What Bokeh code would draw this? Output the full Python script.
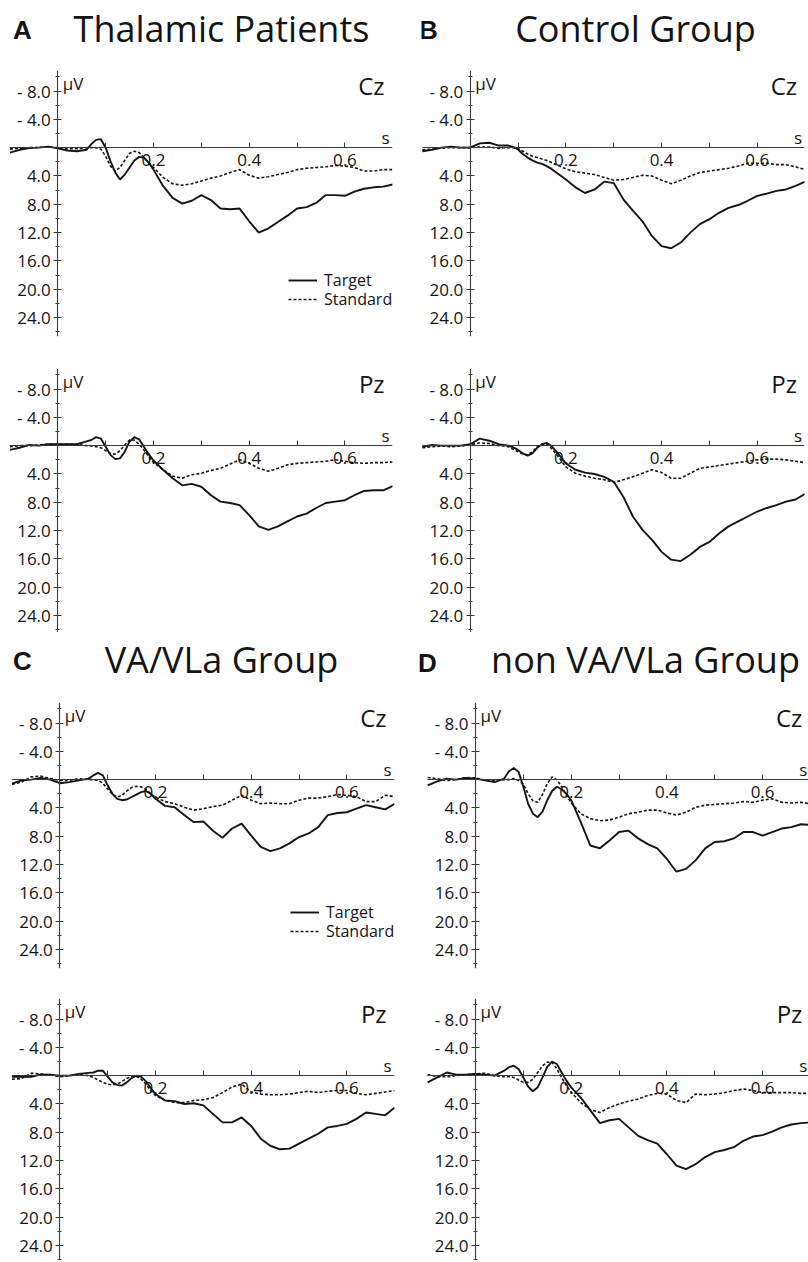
from bokeh.plotting import figure
from bokeh.models import LinearAxis, FixedTicker, Range1d, Legend, LegendItem, Label
from bokeh.layouts import row, column
from bokeh.core.properties import value
from bokeh.embed import file_html
from bokeh.resources import INLINE

# ---------------- data ----------------
time_s = [-0.10, -0.08, -0.06, -0.04, -0.02, 0.00, 0.02, 0.04, 0.06,
          0.07, 0.08, 0.09, 0.10, 0.11, 0.12, 0.13, 0.14, 0.15, 0.16, 0.17, 0.18, 0.19, 0.20,
          0.22, 0.24, 0.26, 0.28, 0.30, 0.32, 0.34, 0.36, 0.38, 0.40,
          0.42, 0.44, 0.46, 0.48, 0.50, 0.52, 0.54, 0.56, 0.58, 0.60,
          0.62, 0.64, 0.66, 0.68, 0.70]

# A  Thalamic Patients
thal_cz_target = [0.7, 0.3, 0.05, 0.0, -0.15, 0.1, 0.4, 0.5, 0.3,
                  -0.5, -1.1, -1.2, 0.0, 1.9, 3.5, 4.5, 3.8, 2.8, 1.8, 1.3, 1.4, 2.1, 3.1,
                  5.4, 7.1, 7.9, 7.5, 6.7, 7.4, 8.6, 8.7, 8.6, 10.4,
                  12.0, 11.4, 10.5, 9.6, 8.6, 8.4, 7.8, 6.7, 6.7, 6.8,
                  6.2, 5.8, 5.6, 5.5, 5.2]
thal_cz_standard = [0.2, 0.1, 0.0, -0.05, -0.1, 0.0, 0.15, 0.15, 0.0,
                    0.0, 0.0, 0.2, 1.2, 2.6, 3.3, 2.8, 1.8, 0.8, 0.5, 0.7, 1.4, 2.1, 2.8,
                    4.2, 5.1, 5.3, 5.1, 4.7, 4.3, 4.0, 3.5, 3.1, 3.9,
                    4.3, 4.1, 3.8, 3.5, 3.1, 2.9, 2.8, 2.7, 2.5, 2.6,
                    2.8, 3.3, 3.3, 3.1, 3.1]
thal_pz_target = [0.6, 0.3, -0.1, 0.0, -0.2, -0.2, -0.2, -0.2, -0.6,
                  -0.8, -1.2, -1.0, 0.15, 1.3, 1.9, 1.8, 0.85, -0.6, -1.2, -0.9, 0.15, 1.2, 2.1,
                  3.4, 4.6, 5.6, 5.4, 5.8, 7.0, 7.9, 8.1, 8.4, 9.8,
                  11.4, 11.9, 11.4, 10.7, 10.0, 9.6, 8.8, 8.1, 7.9, 7.7,
                  7.0, 6.4, 6.3, 6.3, 5.7]
thal_pz_standard = [0.15, 0.0, 0.0, -0.1, -0.2, -0.2, -0.2, -0.2, 0.0,
                    0.05, 0.15, 0.3, 0.7, 1.1, 1.2, 0.7, -0.1, -0.8, -0.8, -0.2, 0.6, 1.55, 2.35,
                    3.4, 4.3, 4.6, 4.1, 3.9, 3.5, 3.2, 2.6, 2.0, 2.5,
                    3.2, 3.6, 3.2, 2.7, 2.5, 2.4, 2.3, 2.2, 2.0, 2.2,
                    2.4, 2.5, 2.4, 2.4, 2.3]

# B  Control Group
control_cz_target = [0.5, 0.3, 0.0, -0.15, 0.0, 0.0, -0.6, -0.7, -0.3,
                     -0.3, -0.3, -0.1, 0.25, 0.9, 1.4, 1.8, 2.1, 2.3, 2.6, 3.0, 3.5, 4.0, 4.5,
                     5.6, 6.4, 5.9, 4.8, 5.0, 7.3, 8.9, 10.4, 12.5, 13.9,
                     14.2, 13.4, 12.0, 10.8, 10.1, 9.2, 8.5, 8.1, 7.5, 6.8,
                     6.5, 6.1, 5.9, 5.4, 4.8]
control_cz_standard = [0.3, 0.2, 0.05, 0.0, 0.0, 0.0, -0.1, -0.1, 0.1,
                       0.0, 0.0, 0.0, 0.1, 0.5, 0.9, 1.2, 1.4, 1.6, 1.8, 2.1, 2.4, 2.7, 3.0,
                       3.4, 3.6, 3.8, 4.2, 4.6, 4.5, 4.2, 3.9, 4.0, 4.6,
                       5.1, 4.6, 4.0, 3.5, 3.3, 3.1, 2.9, 2.6, 2.2, 2.2,
                       2.2, 2.4, 2.4, 2.7, 3.1]
control_pz_target = [0.15, -0.1, 0.0, 0.0, 0.0, -0.2, -1.0, -0.7, -0.2,
                     -0.1, 0.0, 0.25, 0.6, 1.1, 1.4, 1.1, 0.3, -0.2, -0.4, 0.05, 0.85, 1.65, 2.5,
                     3.4, 3.8, 4.0, 4.4, 5.1, 7.2, 10.0, 11.9, 13.3, 15.0,
                     16.1, 16.3, 15.4, 14.3, 13.6, 12.4, 11.4, 10.7, 10.0, 9.3,
                     8.8, 8.4, 7.9, 7.6, 6.8]
control_pz_standard = [0.3, 0.15, 0.05, 0.15, 0.05, -0.1, -0.4, -0.3, 0.0,
                       0.05, 0.15, 0.5, 0.85, 1.2, 1.3, 0.85, 0.15, -0.2, -0.2, 0.4, 1.2, 2.1, 3.0,
                       3.9, 4.3, 4.6, 4.8, 5.2, 4.8, 4.4, 3.9, 3.4, 3.8,
                       4.6, 4.6, 3.9, 3.2, 3.0, 2.8, 2.6, 2.4, 2.2, 2.0,
                       1.9, 1.9, 2.0, 2.2, 2.4]

# C  VA/VLa Group
vavla_cz_target = [0.55, 0.1, 0.0, -0.25, 0.0, 0.5, 0.35, 0.1, -0.15,
                   -0.6, -0.95, -0.6, 0.8, 2.0, 2.7, 2.9, 2.8, 2.45, 2.1, 1.75, 1.6, 2.0, 2.7,
                   3.7, 3.9, 5.0, 6.0, 5.9, 7.2, 8.2, 6.9, 6.2, 7.9,
                   9.5, 10.1, 9.7, 9.0, 8.1, 7.6, 6.7, 5.0, 4.7, 4.6,
                   4.1, 3.6, 3.9, 4.2, 3.4]
vavla_cz_standard = [0.65, 0.35, -0.4, -0.5, -0.15, 0.1, 0.1, -0.15, 0.0,
                     0.0, 0.1, 0.5, 1.3, 2.1, 2.45, 2.2, 1.6, 1.1, 0.95, 1.0, 1.35, 2.0, 2.5,
                     3.1, 3.4, 3.9, 4.3, 4.1, 3.8, 3.6, 2.9, 2.2, 2.9,
                     3.4, 3.3, 3.4, 3.4, 2.9, 2.6, 2.6, 2.4, 2.1, 2.2,
                     2.4, 3.1, 3.1, 2.2, 2.4]
vavla_pz_target = [0.15, 0.15, 0.15, -0.15, -0.15, 0.0, 0.0, -0.25, -0.4,
                   -0.45, -0.7, -0.7, 0.15, 0.95, 1.3, 1.4, 0.95, 0.35, 0.0, 0.15, 0.8, 1.75, 2.6,
                   3.5, 3.6, 4.0, 3.9, 4.2, 5.4, 6.6, 6.6, 5.9, 7.1,
                   8.9, 9.9, 10.4, 10.3, 9.6, 8.9, 8.2, 7.3, 7.1, 6.8,
                   6.1, 5.2, 5.4, 5.6, 4.5]
vavla_pz_standard = [0.5, 0.4, -0.35, -0.25, -0.1, 0.15, 0.0, -0.15, 0.0,
                     0.25, 0.6, 0.95, 1.2, 1.3, 1.2, 0.8, 0.4, 0.1, 0.1, 0.5, 1.2, 2.1, 2.8,
                     3.5, 3.8, 3.8, 3.5, 3.4, 3.1, 2.4, 1.6, 1.2, 2.3,
                     2.6, 2.7, 2.7, 2.6, 2.4, 2.2, 2.4, 2.2, 2.1, 2.1,
                     2.5, 2.7, 2.5, 2.3, 2.1]

# D  non VA/VLa Group
nonva_cz_target = [0.8, 0.25, -0.15, 0.0, -0.25, -0.15, 0.1, 0.35, -0.15,
                   -1.2, -1.65, -1.1, 1.0, 3.4, 4.8, 5.3, 4.5, 2.9, 1.6, 1.0, 1.35, 2.0, 2.9,
                   6.0, 9.3, 9.7, 8.6, 7.4, 7.2, 8.3, 9.1, 9.7, 11.2,
                   13.0, 12.6, 11.4, 9.7, 8.8, 8.7, 8.3, 7.4, 7.4, 7.9,
                   7.4, 6.9, 6.7, 6.3, 6.4]
nonva_cz_standard = [-0.3, -0.15, 0.1, 0.0, -0.3, -0.25, 0.1, 0.1, 0.0,
                     0.0, -0.15, 0.1, 0.65, 2.0, 3.0, 3.2, 2.1, 0.55, -0.4, 0.0, 1.0, 2.2, 3.3,
                     4.8, 5.5, 5.8, 5.7, 5.3, 4.8, 4.6, 4.3, 4.3, 4.7,
                     5.0, 4.6, 3.9, 3.6, 3.5, 3.4, 3.3, 3.1, 3.2, 2.9,
                     2.7, 3.2, 3.3, 3.2, 3.4]
nonva_pz_target = [0.95, 0.25, -0.45, -0.15, -0.15, -0.25, -0.15, 0.0, -0.7,
                   -1.2, -1.4, -0.95, 0.25, 1.55, 2.2, 1.65, 0.25, -1.25, -2.0, -1.65, -0.45, 0.7, 1.65,
                   3.1, 4.9, 6.7, 6.3, 6.1, 7.3, 8.5, 9.1, 9.6, 11.1,
                   12.7, 13.2, 12.5, 11.5, 10.8, 10.5, 10.1, 9.2, 8.6, 8.4,
                   7.9, 7.3, 6.9, 6.7, 6.6]
nonva_pz_standard = [-0.15, 0.15, 0.15, 0.0, -0.15, -0.25, -0.35, 0.0, 0.15,
                     0.15, 0.25, 0.6, 0.95, 0.95, 0.5, -0.45, -1.4, -1.9, -1.9, -0.95, 0.25, 1.4, 2.35,
                     3.8, 4.8, 5.2, 4.5, 4.0, 3.6, 3.3, 2.8, 2.5, 2.6,
                     3.5, 3.8, 2.6, 2.7, 2.6, 2.4, 2.1, 1.9, 2.1, 2.4,
                     2.4, 2.4, 2.4, 2.5, 2.5]

y_ticks = [-8, -4, 4, 8, 12, 16, 20, 24]
y_tick_labels = ["- 8.0", "- 4.0", "4.0", "8.0", "12.0", "16.0", "20.0", "24.0"]
y_minor_ticks = [-10, -6, -2, 2, 6, 10, 14, 18, 22, 26]
x_ticks = [0.2, 0.4, 0.6]
x_tick_labels = ["0.2", "0.4", "0.6"]
x_minor_ticks = [0.1, 0.3, 0.5]
conditions = ["Target", "Standard"]
group_letters = ["A", "B", "C", "D"]
group_names = ["Thalamic Patients", "Control Group", "VA/VLa Group", "non VA/VLa Group"]
group_data = [
    {"Cz": (thal_cz_target, thal_cz_standard), "Pz": (thal_pz_target, thal_pz_standard)},
    {"Cz": (control_cz_target, control_cz_standard), "Pz": (control_pz_target, control_pz_standard)},
    {"Cz": (vavla_cz_target, vavla_cz_standard), "Pz": (vavla_pz_target, vavla_pz_standard)},
    {"Cz": (nonva_cz_target, nonva_cz_standard), "Pz": (nonva_pz_target, nonva_pz_standard)},
]

# ---------------- style / layout ----------------
FONT = "Open Sans"
INK = "#141414"
AXIS = "#3a3a3a"
BLOCK_W = 404
PX_PER_S = 478.5
PX_PER_UV = 7.08
Y_TOP = -10.9
AXIS_BOUNDS = (-0.1, 0.7)

# per block: frame left/right edge and y-axis position (px within block),
# title letter centre x, name centre x, vertical centres
layout_specs = [
    dict(fl=9, fr=392, ax=57.3, title_h=70, cz_h=266, gap=32, pz_h=264, lx=22, ly=29, nx=221, ny=28, legend=True),
    dict(fl=17, fr=400, ax=65.7, title_h=70, cz_h=266, gap=32, pz_h=264, lx=24, ly=29, nx=231, ny=28, legend=False),
    dict(fl=11, fr=394, ax=59.3, title_h=70, cz_h=266, gap=30, pz_h=262, lx=22, ly=28, nx=221, ny=27, legend=True),
    dict(fl=10, fr=404, ax=71.0, title_h=70, cz_h=266, gap=30, pz_h=262, lx=23, ly=30, nx=241, ny=27, legend=False),
]


def make_title(letter, name, spec):
    # layouts align plot frames, so give the title the same frame as the subplots;
    # data x == pixel x within the block
    fl, fr = spec["fl"], spec["fr"]
    p = figure(width=BLOCK_W, height=spec["title_h"], x_range=Range1d(fl, fr),
               y_range=Range1d(spec["title_h"], 0), x_axis_type=None, y_axis_type=None,
               toolbar_location=None, output_backend="svg",
               min_border_left=fl, min_border_right=BLOCK_W - fr,
               min_border_top=0, min_border_bottom=0)
    p.outline_line_color = None
    p.add_layout(Label(x=spec["lx"], y=spec["ly"], text=letter, text_font="Liberation Sans",
                       text_font_style="bold", text_font_size="26px", text_color=INK,
                       text_baseline="middle", text_align="center"))
    p.add_layout(Label(x=spec["nx"], y=spec["ny"], text=name, text_font=FONT,
                       text_font_size="36px", text_color=INK, text_baseline="middle",
                       text_align="center"))
    return p


def make_subplot(site, target, standard, spec, frame_h, bottom, legend):
    fl, fr, ax = spec["fl"], spec["fr"], spec["ax"]
    x_start = (fl - ax) / PX_PER_S
    x_end = (fr - ax) / PX_PER_S
    y_bottom = Y_TOP + frame_h / PX_PER_UV
    p = figure(width=BLOCK_W, height=frame_h + bottom,
               x_range=Range1d(x_start, x_end), y_range=Range1d(y_bottom, Y_TOP),
               x_axis_type=None, y_axis_type=None, toolbar_location=None, output_backend="svg",
               min_border_left=fl, min_border_right=BLOCK_W - fr,
               min_border_top=0, min_border_bottom=bottom)
    p.outline_line_color = None

    r_t = p.line(time_s, target, line_color=INK, line_width=1.9)
    r_s = p.line(time_s, standard, line_color=INK, line_width=1.6, line_dash="3 2")

    ya = LinearAxis(fixed_location=0,
                    ticker=FixedTicker(ticks=y_ticks, minor_ticks=y_minor_ticks),
                    major_label_overrides={t: l for t, l in zip(y_ticks, y_tick_labels)},
                    axis_line_color=AXIS, axis_line_width=1.1,
                    major_tick_line_color=AXIS, minor_tick_line_color=AXIS,
                    major_tick_in=4, major_tick_out=4, minor_tick_in=2, minor_tick_out=2,
                    major_label_standoff=3, major_label_text_font=FONT,
                    major_label_text_font_size="17px", major_label_text_color=INK)
    p.add_layout(ya, "left")
    xa = LinearAxis(fixed_location=0, bounds=AXIS_BOUNDS,
                    ticker=FixedTicker(ticks=x_ticks, minor_ticks=x_minor_ticks),
                    major_label_overrides={t: l for t, l in zip(x_ticks, x_tick_labels)},
                    axis_line_color=AXIS, axis_line_width=1.1,
                    major_tick_line_color=AXIS, minor_tick_line_color=AXIS,
                    major_tick_in=5, major_tick_out=0, minor_tick_in=5, minor_tick_out=0,
                    major_label_standoff=6, major_label_text_font=FONT,
                    major_label_text_font_size="17px", major_label_text_color=INK)
    p.add_layout(xa, "below")

    p.text(x=[0], y=[-9.1], text=["\u03bcV"], x_offset=5, text_font=value(FONT),
           text_font_size="17px", text_color=INK, text_baseline="middle", text_align="left")
    p.text(x=[0.685], y=[-1.4], text=["s"], text_font=value(FONT), text_font_size="17px",
           text_color=INK, text_baseline="middle", text_align="center")
    p.text(x=[0.683], y=[-8.8], text=[site], text_font=value(FONT), text_font_size="24px",
           text_color=INK, text_baseline="middle", text_align="right")

    if legend:
        lx = round(0.482 * PX_PER_S + ax - fl)
        for lab, rend, ly in ((conditions[0], r_t, 45), (conditions[1], r_s, 26)):
            lg = Legend(items=[LegendItem(label=lab, renderers=[rend])],
                        location=(lx, ly), padding=0, margin=0, spacing=0,
                        glyph_width=29, glyph_height=16, label_height=16, label_standoff=7,
                        label_text_font=FONT, label_text_font_size="16px",
                        label_text_color=INK, background_fill_alpha=0, border_line_alpha=0)
            p.add_layout(lg)
    return p


blocks = []
for letter, name, data, spec in zip(group_letters, group_names, group_data, layout_specs):
    title = make_title(letter, name, spec)
    cz = make_subplot("Cz", data["Cz"][0], data["Cz"][1], spec, spec["cz_h"], spec["gap"], spec["legend"])
    pz = make_subplot("Pz", data["Pz"][0], data["Pz"][1], spec, spec["pz_h"], 0, False)
    blocks.append(column(title, cz, pz, spacing=0))

page = column(row(blocks[0], blocks[1], spacing=0), row(blocks[2], blocks[3], spacing=0), spacing=0)

open("out.html", "w").write(file_html(page, INLINE))
